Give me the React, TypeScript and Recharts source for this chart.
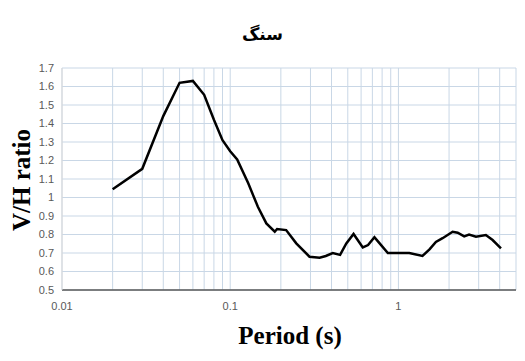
import { LineChart, Line, XAxis, YAxis, CartesianGrid } from 'recharts';

const periods = [0.02, 0.03, 0.04, 0.05, 0.06, 0.07, 0.08, 0.09, 0.1, 0.11, 0.128, 0.146, 0.164, 0.184, 0.19, 0.215, 0.247, 0.296, 0.34, 0.37, 0.407, 0.45, 0.49, 0.541, 0.614, 0.66, 0.72, 0.76, 0.865, 1.0, 1.16, 1.39, 1.53, 1.67, 1.83, 2.1, 2.25, 2.46, 2.63, 2.89, 3.31, 3.63, 4.07];
const ratios = [1.045, 1.155, 1.44, 1.62, 1.63, 1.555, 1.42, 1.31, 1.25, 1.206, 1.077, 0.95, 0.86, 0.815, 0.83, 0.824, 0.752, 0.68, 0.675, 0.684, 0.7, 0.69, 0.752, 0.803, 0.73, 0.743, 0.785, 0.76, 0.7, 0.7, 0.7, 0.684, 0.72, 0.76, 0.78, 0.815, 0.81, 0.79, 0.8, 0.788, 0.797, 0.77, 0.725];

const xTicks = [0.01, 0.02, 0.03, 0.04, 0.05, 0.06, 0.07, 0.08, 0.09, 0.1, 0.2, 0.3, 0.4, 0.5, 0.6, 0.7, 0.8, 0.9, 1, 2, 3, 4, 5];
const xLabels = [0.01, 0.1, 1];
const yTicks = [0.5, 0.6, 0.7, 0.8, 0.9, 1, 1.1, 1.2, 1.3, 1.4, 1.5, 1.6, 1.7];

const data = periods.map((p, i) => ({ period: p, ratio: ratios[i] }));

const XTick = (props: any) => {
  const { x, y, payload } = props;
  if (!xLabels.includes(payload.value)) return null;
  return (
    <text x={x} y={y + 12} textAnchor="middle" fontSize={11} fill="#595959" fontFamily="Liberation Sans, Arial, sans-serif">
      {payload.value}
    </text>
  );
};

export default function App() {
  return (
    <div style={{ position: 'absolute', left: 0, top: 0, width: 525, height: 361, background: '#fff' }}>
      <div style={{ position: 'absolute', left: 0, width: 525, top: 24, textAlign: 'center', fontFamily: 'DejaVu Sans, sans-serif', fontWeight: 'bold', fontSize: 17 }}>
        سنگ
      </div>
      <LineChart width={525} height={361} data={data} margin={{ top: 68, right: 9, bottom: 41, left: 22 }}>
        <CartesianGrid stroke="#c9d7e6" strokeWidth={1} />
        <XAxis
          dataKey="period"
          type="number"
          scale="log"
          domain={[0.01, 5]}
          ticks={xTicks}
          allowDataOverflow
          height={30}
          tickLine={false}
          axisLine={{ stroke: '#595959', strokeWidth: 1.5 }}
          tick={<XTick />}
          interval={0}
        />
        <YAxis
          type="number"
          domain={[0.5, 1.7]}
          ticks={yTicks}
          width={40}
          tickLine={false}
          axisLine={{ stroke: '#d9d9d9' }}
          tick={{ fontSize: 11, fill: '#595959', fontFamily: 'Liberation Sans, Arial, sans-serif' }}
          tickFormatter={(v: number) => String(Number(v.toFixed(1)))}
          interval={0}
        />
        <Line dataKey="ratio" stroke="#000" strokeWidth={2.5} dot={false} isAnimationActive={false} type="linear" />
      </LineChart>
      <div style={{ position: 'absolute', left: 22, top: 180, transform: 'translate(-50%, -50%) rotate(-90deg)', whiteSpace: 'nowrap', fontFamily: 'Liberation Serif, serif', fontWeight: 'bold', fontSize: 25 }}>
        V/H ratio
      </div>
      <div style={{ position: 'absolute', left: 290, top: 336, transform: 'translate(-50%, -50%)', whiteSpace: 'nowrap', fontFamily: 'Liberation Serif, serif', fontWeight: 'bold', fontSize: 25 }}>
        Period (s)
      </div>
    </div>
  );
}
